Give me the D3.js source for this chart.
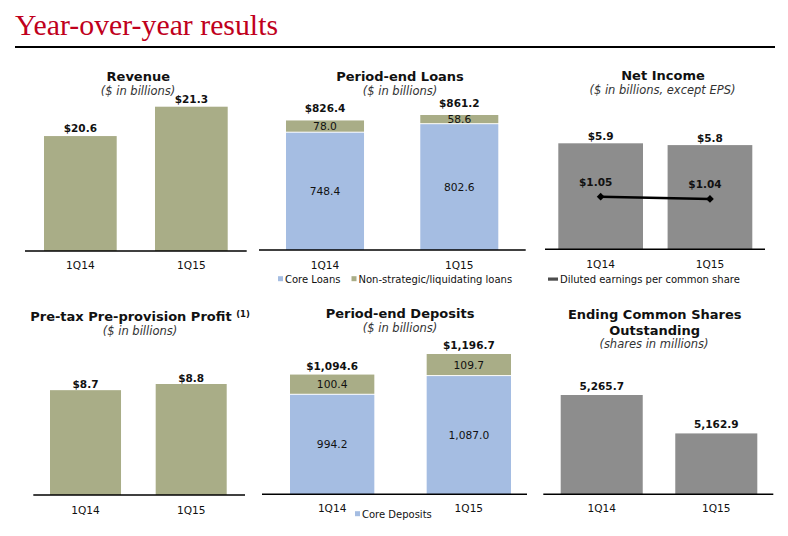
<!DOCTYPE html>
<html><head><meta charset="utf-8">
<script src="https://cdn.jsdelivr.net/npm/d3@7"></script>
<style>
body{margin:0;background:#fff}
svg{display:block}
text{font-family:"DejaVu Sans",Verdana,sans-serif;fill:#111}
.pt{font-weight:bold;font-size:13px}
.ps{font-style:italic;font-size:11.5px;fill:#333}
.cat{font-size:10.6px}
.val{font-weight:bold;font-size:10.5px}
.in{font-size:10.7px}
.leg{font-size:10px}
</style>
</head><body>
<svg id="c" width="788" height="536"></svg>
<script>
// ---------------- data ----------------
const categories = ["1Q14", "1Q15"];
const revenue = [20.6, 21.3];
const loansCore = [748.4, 802.6];
const loansNonStrategic = [78.0, 58.6];
const netIncome = [5.9, 5.8];
const dilutedEPS = [1.05, 1.04];
const ppnr = [8.7, 8.8];
const depositsCore = [994.2, 1087.0];
const depositsOther = [100.4, 109.7];
const sharesOutstanding = [5265.7, 5162.9];

// ---------------- styles ----------------
const OLIVE = "#a9ad87", BLUE = "#a5bde2", GRAY = "#8d8d8d", DARK = "#4d4d4d";
const f1 = d3.format(",.1f"), f2 = d3.format(".2f");
const dollar1 = v => "$" + f1(v);

const svg = d3.select("#c");

// page title
svg.append("text").attr("x", 15).attr("y", 35)
  .style("font-family", "'Liberation Serif','Times New Roman',serif")
  .style("font-size", "29.8px").style("fill", "#c0001c")
  .text("Year-over-year results");
svg.append("line").attr("x1", 15).attr("x2", 775).attr("y1", 47).attr("y2", 47)
  .attr("stroke", "#000").attr("stroke-width", 2.2);

const panels = [
  { band: [44, 227.7], pi: 0.345, domain: [17.86, 21.3], base: 251, top: 106.7, axis: [25, 246.7],
    series: [{ key: "revenue", values: revenue, color: OLIVE }], fmt: dollar1, gap: 4, catY: 268.5,
    titles: [{ t: "Revenue", x: 138.3, y: 80.7, c: "pt" }, { t: "($ in billions)", x: 138, y: 94.5, c: "ps" }] },
  { band: [286, 498.3], pi: 0.419, domain: [0, 861.2], base: 250, top: 115, axis: [259, 525.7],
    series: [{ key: "core", values: loansCore, color: BLUE }, { key: "non", values: loansNonStrategic, color: OLIVE }],
    fmt: dollar1, gap: 8, inner: true, catY: 269,
    titles: [{ t: "Period-end Loans", x: 400, y: 80.7, c: "pt" }, { t: "($ in billions)", x: 400, y: 94.5, c: "ps" }],
    legend: { y: 282.7, items: [{ label: "Core Loans", color: BLUE, x: 278 }, { label: "Non-strategic/liquidating loans", color: OLIVE, x: 351.5 }] } },
  { band: [558.3, 752.3], pi: 0.225, domain: [0, 5.9], base: 249.3, top: 143.3, axis: [545, 765],
    series: [{ key: "ni", values: netIncome, color: GRAY }], fmt: dollar1, gap: 3.2, catY: 268,
    line: { values: dilutedEPS, domain: [0.82, 1.05], top: 196.7 },
    titles: [{ t: "Net Income", x: 663, y: 80, c: "pt" }, { t: "($ in billions, except EPS)", x: 662.5, y: 94, c: "ps" }],
    legend: { y: 283, items: [{ label: "Diluted earnings per common share", color: DARK, x: 548, bar: true }] } },
  { band: [50, 226.7], pi: 0.328, domain: [7, 8.8], base: 495, top: 384, axis: [33.3, 245],
    series: [{ key: "ppnr", values: ppnr, color: OLIVE }], fmt: dollar1, gap: 1.8, catY: 513.5,
    titles: [{ t: "Pre-tax Pre-provision Profit", sup: "(1)", x: 140, y: 321, c: "pt" }, { t: "($ in billions)", x: 140, y: 334.8, c: "ps" }] },
  { band: [290, 511], pi: 0.383, domain: [500, 1196.7], base: 494.3, top: 354, axis: [262, 527],
    series: [{ key: "core", values: depositsCore, color: BLUE }, { key: "other", values: depositsOther, color: OLIVE }],
    fmt: dollar1, gap: 5, inner: true, catY: 511.7,
    titles: [{ t: "Period-end Deposits", x: 400, y: 318.3, c: "pt" }, { t: "($ in billions)", x: 400, y: 332.1, c: "ps" }],
    legend: { y: 517.7, items: [{ label: "Core Deposits", color: BLUE, x: 355 }] } },
  { band: [560.7, 757.3], pi: 0.284, domain: [5000, 5265.7], base: 494.3, top: 395, axis: [543.3, 773.3],
    series: [{ key: "shares", values: sharesOutstanding, color: GRAY }], fmt: f1, gap: 5, catY: 511.7,
    titles: [{ t: "Ending Common Shares", x: 654.7, y: 319, c: "pt" }, { t: "Outstanding", x: 654.7, y: 334.5, c: "pt" },
             { t: "(shares in millions)", x: 654, y: 348.4, c: "ps" }] }
];

panels.forEach(p => {
  const g = svg.append("g");
  const x = d3.scaleBand().domain(categories).range(p.band).paddingInner(p.pi).paddingOuter(0);
  const y = d3.scaleLinear().domain(p.domain).range([p.base, p.top]).clamp(true);

  const rows = categories.map((c, i) => {
    const r = { cat: c };
    p.series.forEach(s => r[s.key] = s.values[i]);
    return r;
  });
  const keys = p.series.map(s => s.key);
  const stacked = d3.stack().keys(keys)(rows);

  stacked.forEach((layer, li) => {
    const s = p.series[li];
    g.selectAll(null).data(layer).join("rect")
      .attr("x", d => x(d.data.cat))
      .attr("width", x.bandwidth())
      .attr("y", d => y(d[1]))
      .attr("height", d => Math.max(0, y(d[0]) - y(d[1]) - (li > 0 ? 1 : 0)))
      .attr("fill", s.color);
    if (p.inner) {
      g.selectAll(null).data(layer).join("text").attr("class", "in")
        .attr("text-anchor", "middle")
        .attr("x", d => x(d.data.cat) + x.bandwidth() / 2)
        .attr("y", d => (y(d[0]) + y(d[1])) / 2)
        .attr("dy", "0.35em")
        .text(d => f1(d.data[s.key]));
    }
  });

  // totals
  const last = stacked[stacked.length - 1];
  g.selectAll(null).data(last).join("text").attr("class", "val")
    .attr("text-anchor", "middle")
    .attr("x", d => x(d.data.cat) + x.bandwidth() / 2)
    .attr("y", d => y(d[1]) - p.gap)
    .text(d => p.fmt(d[1]));

  // axis
  const ax = g.append("g").attr("transform", `translate(0,${p.base})`)
    .call(d3.axisBottom(x).tickSize(0).tickSizeOuter(0));
  ax.select(".domain").remove();
  ax.selectAll("text").attr("class", "cat").attr("y", p.catY - p.base).attr("dy", null)
    .attr("fill", "#111");
  ax.attr("font-family", null).attr("font-size", null);
  g.append("line").attr("x1", p.axis[0]).attr("x2", p.axis[1]).attr("y1", p.base).attr("y2", p.base)
    .attr("stroke", "#000").attr("stroke-width", 1.4);

  // secondary line
  if (p.line) {
    const y2 = d3.scaleLinear().domain(p.line.domain).range([p.base, p.line.top]);
    const pts = categories.map((c, i) => ({ cat: c, v: p.line.values[i] }));
    g.append("path").datum(pts)
      .attr("d", d3.line().x(d => x(d.cat) + x.bandwidth() / 2).y(d => y2(d.v)))
      .attr("fill", "none").attr("stroke", "#000").attr("stroke-width", 2.4);
    g.selectAll(null).data(pts).join("path")
      .attr("transform", d => `translate(${x(d.cat) + x.bandwidth() / 2},${y2(d.v)}) rotate(45)`)
      .attr("d", d3.symbol(d3.symbolSquare, 30)).attr("fill", "#000");
    g.selectAll(null).data(pts).join("text").attr("class", "val")
      .attr("text-anchor", "middle")
      .attr("x", d => x(d.cat) + x.bandwidth() / 2 - 5)
      .attr("y", d => y2(d.v) - 11)
      .text(d => "$" + f2(d.v));
  }

  // titles
  p.titles.forEach(t => {
    const tx = g.append("text").attr("class", t.c).attr("text-anchor", "middle")
      .attr("x", t.x).attr("y", t.y).text(t.t);
    if (t.sup) {
      tx.append("tspan").text(" ");
      tx.append("tspan").attr("dy", -4).style("font-size", "8.5px").text(t.sup);
    }
  });

  // legend
  if (p.legend) {
    p.legend.items.forEach(it => {
      if (it.bar) {
        g.append("rect").attr("x", it.x).attr("y", p.legend.y - 5.5).attr("width", 10).attr("height", 3.2).attr("fill", it.color);
        g.append("text").attr("class", "leg").attr("x", it.x + 12).attr("y", p.legend.y).text(it.label);
      } else {
        g.append("rect").attr("x", it.x).attr("y", p.legend.y - 6.5).attr("width", 5).attr("height", 5).attr("fill", it.color);
        g.append("text").attr("class", "leg").attr("x", it.x + 7).attr("y", p.legend.y).text(it.label);
      }
    });
  }
});
</script>
</body></html>
